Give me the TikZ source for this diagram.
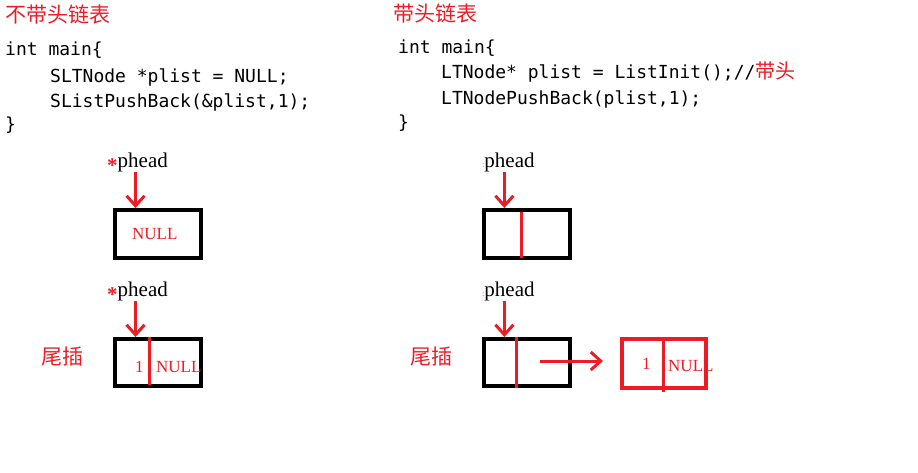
\documentclass[tikz,border=0pt]{standalone}
\usepackage{fontspec}
\usepackage{xcolor}
\setmainfont{Liberation Serif}
\setmonofont{DejaVu Sans Mono}
\newfontfamily\cjk{Noto Sans CJK SC}
\usetikzlibrary{arrows.meta,calc,positioning}
\definecolor{paintred}{RGB}{237,28,36}

\tikzset{
    code/.style={anchor=base west, inner sep=0pt, font=\ttfamily\fontsize{18}{20}\selectfont},
    title/.style={anchor=west, inner sep=0pt, text=paintred, font=\cjk\fontsize{21}{23}\selectfont},
    cell/.style={draw, rectangle, line width=4pt, minimum width=86pt, minimum height=48pt, inner sep=0pt},
    ptr/.style={paintred, line width=3pt, -{Straight Barb[length=10pt,width=18pt]}},
    divider/.style={paintred, line width=3pt},
    val/.style={anchor=base west, inner sep=0pt, text=paintred, font=\fontsize{17}{19}\selectfont},
    headlbl/.style={anchor=base west, inner sep=0pt, font=\fontsize{21}{23}\selectfont}
}

\begin{document}
\begin{tikzpicture}[x=1pt, y=-1pt]
    \useasboundingbox (0,0) rectangle (918,472);

    % Titles
    \node[title] (t1) at (5,14) {不带头链表};
    \node[title] (t2) at (393,13) {带头链表};

    % Code, without head
    \node[code] (l1) at (5,55) {int main\{};
    \node[code] (l2) at (50,82) {SLTNode *plist = NULL;};
    \node[code] (l3) at (50,107) {SListPushBack(\&plist,1);};
    \node[code] (l4) at (5,130) {\}};

    % Code, with head
    \node[code] (r1) at (398,53) {int main\{};
    \node[code] (r2) at (441,78) {LTNode* plist = ListInit();//{\cjk\fontsize{20}{22}\selectfont\color{paintred}带头}};
    \node[code] (r3) at (441,104) {LTNodePushBack(plist,1);};
    \node[code] (r4) at (398,128) {\}};

    % Boxes
    \node[cell] (box1) at (158,234) {};
    \node[cell, minimum height=47pt] (box2) at (158,362.5) {};
    \node[cell] (box3) at (527,234) {};
    \node[cell, minimum height=47pt] (box4) at (527,362.5) {};
    \node[cell, draw=paintred, minimum width=84pt, minimum height=49pt] (box5) at (664,363.5) {};

    % Dividers
    \draw[divider] ($(box2.north west)!0.41!(box2.north east)$) -- ([yshift=3pt]$(box2.south west)!0.41!(box2.south east)$);
    \draw[divider] ([yshift=-4pt]$(box3.north west)!0.44!(box3.north east)$) -- ([yshift=2pt]$(box3.south west)!0.44!(box3.south east)$);
    \draw[divider] ($(box4.north west)!0.38!(box4.north east)$) -- ($(box4.south west)!0.38!(box4.south east)$);
    \draw[divider] ($(box5.north west)!0.49!(box5.north east)$) -- ([yshift=-2pt]$(box5.south west)!0.49!(box5.south east)$);

    % Values
    \node[val] (n1) at (132,239) {NULL};
    \node[val] (v2) at (135,372) {1};
    \node[val] (n2) at (156,372) {NULL};
    \node[val] (v5) at (642,369) {1};
    \node[val] (n5) at (668,371) {NULL};

    % Head pointers
    \node[headlbl] (ph1) at (107,167) {\raisebox{-5pt}{\color{paintred}\bfseries *}phead};
    \node[headlbl] (ph2) at (107,296) {\raisebox{-5pt}{\color{paintred}\bfseries *}phead};
    \node[headlbl] (ph3) at (482,167) {{\color{paintred}\fontsize{8}{8}\selectfont:}phead};
    \node[headlbl] (ph4) at (482,296) {{\color{paintred}\fontsize{8}{8}\selectfont:}phead};
    \draw[ptr] ([xshift=-2pt]ph1.south) -- ([xshift=-2pt]ph1.south |- box1.north);
    \draw[ptr] ([xshift=-2pt]ph2.south) -- ([xshift=-2pt]ph2.south |- box2.north);
    \draw[ptr] ([xshift=-4pt]ph3.south) -- ([xshift=-4pt]ph3.south |- box3.north);
    \draw[ptr] ([xshift=-4pt]ph4.south) -- ([xshift=-4pt]ph4.south |- box4.north);

    % Tail insert
    \node[title] (w1) at (41,357) {尾插};
    \node[title] (w2) at (410,357) {尾插};
    \coordinate (tail) at (540,361);
    \draw[ptr, shorten >=17pt] (tail) -- (tail -| box5.west);
\end{tikzpicture}
\end{document}
